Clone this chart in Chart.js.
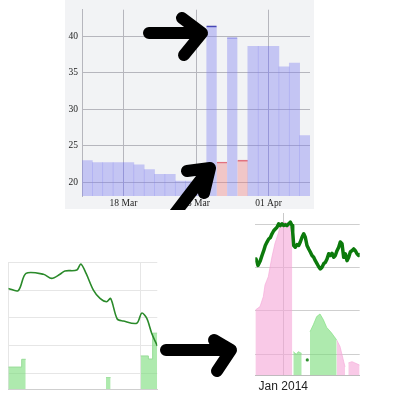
<!DOCTYPE html>
<html><head><meta charset="utf-8">
<script src="https://cdn.jsdelivr.net/npm/chart.js@4.4.1/dist/chart.umd.min.js"></script>
<style>
html,body{margin:0;padding:0;background:#fff;width:400px;height:400px;overflow:hidden}
.box{position:absolute}
#topBox{left:65px;top:0;width:249px;height:209px;background:#f2f3f5}
#leftBox{left:0;top:250px;width:166px;height:146px}
#rightBox{left:240px;top:205px;width:135px;height:195px}
#arrows{position:absolute;left:0;top:0;pointer-events:none}
</style></head><body>
<div class="box" id="topBox"><canvas id="c1"></canvas></div>
<div class="box" id="leftBox"><canvas id="c2"></canvas></div>
<div class="box" id="rightBox"><canvas id="c3"></canvas></div>
<svg id="arrows" width="400" height="400" viewBox="0 0 400 400">
  <defs><clipPath id="clipTop"><rect x="0" y="0" width="400" height="210"/></clipPath></defs>
  <g fill="none" stroke="#000" stroke-width="12" stroke-linecap="round" stroke-linejoin="round">
    <path d="M149 33 L201 33 M182 18 L202 33 L184 55"/>
    <path clip-path="url(#clipTop)" d="M166 225 L209 169 M187 171 L210 168 L204 193"/>
    <path d="M166 350 L230 350 M214 340 L231 350 L217 371"/>
  </g>
</svg>
<script>
// ---------- Top chart data (daily, 14 Mar .. 04 Apr) ----------
const topDates = ['14 Mar','15 Mar','16 Mar','17 Mar','18 Mar','19 Mar','20 Mar','21 Mar','22 Mar','23 Mar','24 Mar','25 Mar','26 Mar','27 Mar','28 Mar','29 Mar','30 Mar','31 Mar','01 Apr','02 Apr','03 Apr','04 Apr'];
const topBlue = [23.0,22.7,22.7,22.7,22.7,22.4,21.75,21.1,21.1,20.2,20.2,20.1,41.4,null,39.8,null,38.6,38.6,38.6,35.8,36.3,26.4];
const topPink = [null,null,null,null,null,null,null,null,null,null,null,null,null,22.8,null,23.05,null,null,null,null,null,null];
const topTickDays = [4,11,18];
const topTickLabels = ['18 Mar','25 Mar','01 Apr'];
const topYTicks = [20,25,30,35,40];

// ---------- Bottom-left chart data ----------
const leftLineX = [0,3.0,5.35,10.6,13.1,15.6,17.1,20.7,21.9,23.5,25.7,27.7,29.7,30.9,32.9,34.7,38.8,40.3,41.8,43.3,45];
const leftLineY = [4.06,3.98,4.6,4.57,4.42,4.57,4.69,4.72,4.94,4.6,4.0,3.7,3.58,3.7,2.96,2.89,2.81,3.17,2.99,2.45,1.99];
const leftBarX = [0,4.05,5.26,5.3,29.5,30.9,31,40,42.3,43.6,45];
const leftBarY = [1.23,1.51,1.51,null,0.85,0.85,null,1.63,1.52,2.45,2.45];
const leftYTicks = [1,2,3,4,5];
const leftXTicks = [0,40];

// ---------- Bottom-right chart data ----------
const rightLineX = [0.7,2.7,5.0,6.7,8.4,10,11.7,13.4,15,16.7,18.4,20,21.7,23.4,25,26.7,28.4,30,31.7,33.4,35,36.7,37.4,38.4,40,41.7,43.4,45,46.7,48.4,50,51.7,53.4,55,56.7,58.4,60,61.7,63.4,65,66.7,68.4,70,71.7,73.4,75,76.7,78.4,80,81.7,83.4,85,86.7,88.4,90,91.7,93.4,95,96.7,98.4,100,101.7,103.4,104.4];
const rightLineY = [2.20,2.05,2.16,2.28,2.39,2.51,2.59,2.66,2.69,2.78,2.85,2.89,2.93,3.01,2.97,3.01,2.97,2.99,2.97,3.01,3.05,2.97,2.82,2.51,2.47,2.53,2.51,2.59,2.70,2.78,2.70,2.51,2.43,2.36,2.28,2.24,2.16,2.09,2.02,1.97,2.01,2.09,2.12,2.20,2.32,2.28,2.33,2.24,2.28,2.39,2.47,2.59,2.55,2.24,2.32,2.16,2.24,2.36,2.39,2.43,2.39,2.32,2.28,2.30];
const rightPinkX = [0,4.7,8,9.7,13,16.4,19.7,23,24.7,28,31.4,34.7,37,37.5,81.4,84.7,88,89.7,90,93,96.7,104.4];
const rightPinkY = [1.02,1.10,1.33,1.60,1.79,2.22,2.56,2.79,2.95,3.06,3.03,2.95,2.87,null,0.33,0.18,-0.13,-0.29,null,-0.2,-0.17,-0.25];
const rightGreenX = [38,41,43,46.4,47,54.7,58,61.4,64.7,68,71.4,76,81.4];
const rightGreenY = [0.06,0.0,0.06,0.02,null,0.52,0.68,0.87,0.93,0.8,0.62,0.5,0.33];
const rightDotX = [52];
const rightDotY = [-0.13];
const rightXTicks = [28];
const rightXLabels = ['Jan 2014'];
const rightYTicks = [0,1,2,3];

const pts = (xs, ys) => xs.map((x, i) => ({x: x, y: ys[i]}));
const setTicks = arr => s => { s.ticks = arr.map(v => ({value: v})); };

// ---------- Top chart ----------
const topGrid = '#b6b6bd';
new Chart(document.getElementById('c1'), {
  type: 'bar',
  data: {
    datasets: [
      {
        data: topBlue.map((v, i) => ({x: i + 0.5, y: v})),
        backgroundColor: 'rgba(128,128,240,0.4)',
        borderColor: ctx => ctx.dataIndex === 12 ? '#3a3aa8' : '#9a9ae6',
        borderWidth: ctx => (ctx.dataIndex === 12 || ctx.dataIndex === 14) ? {top: 1, left: 0, right: 0, bottom: 0} : 0,
        grouped: false, barPercentage: 1, categoryPercentage: 1
      },
      {
        data: topPink.map((v, i) => ({x: i + 0.5, y: v})),
        backgroundColor: 'rgba(240,130,130,0.4)',
        borderColor: '#e07080',
        borderWidth: {top: 1, left: 0, right: 0, bottom: 0},
        grouped: false, barPercentage: 1, categoryPercentage: 1
      }
    ]
  },
  options: {
    responsive: true, maintainAspectRatio: false, animation: false,
    layout: {padding: {top: 7, right: 4, left: 0, bottom: 0}},
    plugins: {legend: {display: false}, tooltip: {enabled: false}},
    scales: {
      x: {
        type: 'linear', min: 0, max: topDates.length, offset: false,
        afterBuildTicks: setTicks(topTickDays),
        afterFit: s => { s.height = 13; },
        grid: {color: topGrid, drawTicks: false, offset: false},
        border: {display: false},
        ticks: {autoSkip: false, maxRotation: 0, padding: 2, color: '#222',
          font: {family: 'Liberation Serif', size: 9.5},
          callback: (v, i) => topTickLabels[i]}
      },
      y: {
        min: 18.15, max: 43.6,
        afterBuildTicks: setTicks(topYTicks),
        afterFit: s => { s.width = 17; },
        grid: {color: topGrid, drawTicks: false},
        border: {display: true, color: topGrid},
        ticks: {padding: 4, color: '#222', font: {family: 'Liberation Serif', size: 9.5}}
      }
    }
  }
});

// ---------- Bottom-left chart ----------
new Chart(document.getElementById('c2'), {
  type: 'line',
  data: {
    datasets: [
      {
        data: pts(leftLineX, leftLineY),
        borderColor: '#2a8a2a', borderWidth: 1.6, pointRadius: 0, tension: 0.3,
        fill: false, order: 0
      },
      {
        data: pts(leftBarX, leftBarY),
        stepped: 'before', spanGaps: false, fill: 'start',
        backgroundColor: 'rgba(120,220,120,0.6)', borderColor: '#98dc98', borderWidth: 1,
        pointRadius: 0, order: 1
      }
    ]
  },
  options: {
    responsive: true, maintainAspectRatio: false, animation: false,
    layout: {padding: {top: 12.3, right: 8.7, left: 8.3, bottom: 6.7}},
    plugins: {legend: {display: false}, tooltip: {enabled: false}},
    scales: {
      x: {
        type: 'linear', min: 0, max: 45,
        afterBuildTicks: setTicks(leftXTicks),
        afterFit: s => { s.height = 0; },
        grid: {color: '#e6e6e6', drawTicks: false},
        border: {display: true, color: '#cfcfcf'},
        ticks: {display: false}
      },
      y: {
        min: 0.43, max: 5,
        afterBuildTicks: setTicks(leftYTicks),
        afterFit: s => { s.width = 0; },
        grid: {color: '#e6e6e6', drawTicks: false},
        border: {display: false},
        ticks: {display: false}
      }
    }
  }
});

// ---------- Bottom-right chart ----------
new Chart(document.getElementById('c3'), {
  type: 'line',
  data: {
    datasets: [
      {
        data: pts(rightLineX, rightLineY),
        borderColor: '#0c7a0c', borderWidth: 3.5, pointRadius: 0, tension: 0,
        borderJoinStyle: 'round', borderCapStyle: 'round', fill: false, order: 0
      },
      {
        data: pts(rightPinkX, rightPinkY),
        spanGaps: false, fill: 'start', tension: 0,
        backgroundColor: 'rgba(245,165,215,0.6)', borderColor: 'rgba(245,165,215,0.6)', borderWidth: 1,
        pointRadius: 0, order: 2
      },
      {
        data: pts(rightGreenX, rightGreenY),
        spanGaps: false, fill: 'start', tension: 0,
        backgroundColor: 'rgba(120,220,120,0.6)', borderColor: 'rgba(120,220,120,0.6)', borderWidth: 1,
        pointRadius: 0, order: 2
      },
      {
        type: 'scatter',
        data: pts(rightDotX, rightDotY),
        backgroundColor: '#2f8f2f', borderWidth: 0, pointRadius: 1.6, order: 1
      }
    ]
  },
  options: {
    responsive: true, maintainAspectRatio: false, animation: false,
    layout: {padding: {top: 8, right: 15.3, left: 15.3, bottom: 0}},
    plugins: {legend: {display: false}, tooltip: {enabled: false}},
    scales: {
      x: {
        type: 'linear', min: 0, max: 104.4,
        afterBuildTicks: setTicks(rightXTicks),
        afterFit: s => { s.height = 24.5; },
        grid: {color: '#c9c9c9', drawTicks: false},
        border: {display: true, color: '#bdbdbd'},
        ticks: {autoSkip: false, maxRotation: 0, padding: 4, color: '#222',
          font: {family: 'Liberation Sans', size: 12},
          callback: (v, i) => rightXLabels[i]}
      },
      y: {
        min: -0.49, max: 3.26,
        afterBuildTicks: setTicks(rightYTicks),
        afterFit: s => { s.width = 0; },
        grid: {color: '#cfcfcf', drawTicks: false},
        border: {display: false},
        ticks: {display: false}
      }
    }
  }
});
</script>
</body></html>
